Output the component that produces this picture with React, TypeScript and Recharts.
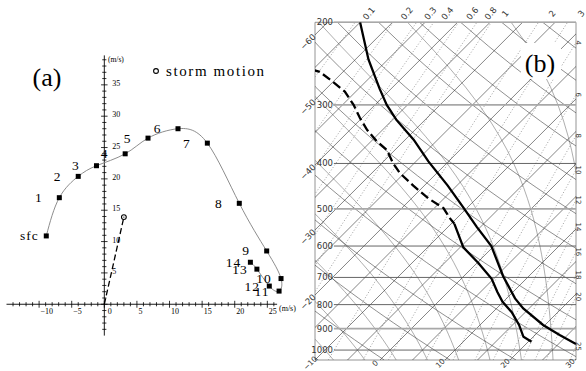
import React from 'react';
import {
  ComposedChart,
  Line,
  XAxis,
  YAxis,
  ReferenceLine,
  ReferenceArea,
  ReferenceDot,
} from 'recharts';

// ---------- (a) hodograph, m/s ----------
const hodoNames = ['sfc', '1', '2', '3', '4', '5', '6', '7', '8', '9', '10', '11', '12', '13', '14'];
const hodoU = [-8.9, -6.9, -4.0, -1.2, 3.2, 6.7, 11.3, 15.8, 20.7, 24.9, 27.1, 26.8, 25.3, 23.4, 22.4];
const hodoV = [10.9, 17.0, 20.4, 22.1, 24.0, 26.5, 28.0, 25.7, 16.1, 8.5, 4.1, 2.1, 2.9, 5.6, 6.7];
const stormU = [0, 3.0];
const stormV = [0, 13.9];
const uLabels = [-10, -5, 0, 5, 10, 15, 20, 25];
const vLabels = [5, 10, 15, 20, 25, 30, 35];

// ---------- (b) sounding, hPa / degC ----------
const tempP = [200, 240, 277, 300, 323, 356, 396, 446, 495, 546, 600, 695, 776, 815, 884, 929, 971];
const tempT = [-55.0, -48.0, -41.8, -38.2, -34.4, -28.7, -23.1, -16.4, -10.8, -5.6, -0.4, 6.0, 11.3, 14.1, 19.7, 23.8, 27.7];
const dewUpperP = [252, 255, 268, 281, 300, 320, 339, 359, 374, 400, 420, 446, 475, 498, 524, 538];
const dewUpperT = [-55.3, -53.6, -50.0, -46.7, -43.3, -40.3, -37.4, -34.1, -31.3, -28.2, -25.6, -21.7, -17.4, -13.6, -11.0, -9.5];
const dewLowerP = [538, 604, 652, 705, 752, 789, 830, 884, 937, 960];
const dewLowerT = [-9.5, -4.5, 0.2, 4.7, 7.6, 9.9, 12.9, 16.0, 18.5, 20.5];

const pressureLabels = [200, 300, 400, 500, 600, 700, 800, 900, 1000];
const lightIsobars = [200, 300, 500, 900];
const mixTop = [0.1, 0.2, 0.3, 0.4, 0.6, 0.8, 1, 2, 3];
const mixRight = [4, 6, 8, 10, 12, 14, 16, 18, 20, 25];
const edgeTemps = [-60, -50, -40, -30, -20];
const baseTemps = [-10, 0, 10, 20, 30];
const isotherms = [-60, -55, -50, -45, -40, -35, -30, -25, -20, -15, -10, -5, 0, 5, 10, 15, 20, 25, 30];
const dryThetas = [250, 260, 270, 280, 290, 300, 310, 320, 330, 340, 350, 360, 370, 380, 390, 400, 410];
const moistThetaW = [-10, -5, 0, 5, 10, 15, 20, 25, 30];

// skew-T geometry
const P_BOT = 1050;
const P_TOP = 200;
const X_MIN = -10;
const X_MAX = 30.15;
const SKEW = 31.32;
const skewX = (t: number, p: number) => t + SKEW * Math.log(P_BOT / p);

const levels: number[] = [];
for (let p = 1050; p >= 200; p -= 25) levels.push(p);

const satVap = (tc: number) => 6.112 * Math.exp((17.67 * tc) / (tc + 243.5));
const dewFromMix = (w: number, p: number) => {
  const e = (w * p) / (622 + w);
  const l = Math.log(e / 6.112);
  return (243.5 * l) / (17.67 - l);
};

function moistLine(tw: number) {
  const lapse = (T: number, p: number) => {
    const e = satVap(T - 273.15);
    const rs = (0.622 * e) / (p - e);
    return (287.04 * T + 2.501e6 * rs) / (p * (1005.7 + (2.501e6 * 2.501e6 * rs * 0.622) / (287.04 * T * T)));
  };
  const step = (T: number, p: number, dp: number) => {
    const k1 = lapse(T, p);
    const k2 = lapse(T + (k1 * dp) / 2, p + dp / 2);
    return T + k2 * dp;
  };
  const pts: { x: number; p: number }[] = [];
  let T = tw + 273.15;
  const lower: { x: number; p: number }[] = [];
  for (let p = 1000; p < 1050; p += 5) {
    T = step(T, p, 5);
    if ((p + 5) % 25 === 0) lower.unshift({ x: skewX(T - 273.15, p + 5), p: p + 5 });
  }
  pts.push(...lower);
  T = tw + 273.15;
  pts.push({ x: skewX(tw, 1000), p: 1000 });
  for (let p = 1000; p > 200; p -= 5) {
    T = step(T, p, -5);
    if ((p - 5) % 25 === 0) pts.push({ x: skewX(T - 273.15, p - 5), p: p - 5 });
  }
  return pts;
}

function mixEdgeP(w: number) {
  let lo = P_TOP;
  let hi = P_BOT;
  for (let i = 0; i < 40; i++) {
    const mid = Math.sqrt(lo * hi);
    if (skewX(dewFromMix(w, mid), mid) > X_MAX) lo = mid;
    else hi = mid;
  }
  return Math.sqrt(lo * hi);
}

const serif = "'Liberation Serif', 'DejaVu Serif', serif";
const sans = "'DejaVu Sans', 'Liberation Sans', sans-serif";

function Hodograph() {
  const hodo = hodoNames.map((name, i) => ({ name, u: hodoU[i], v: hodoV[i] }));
  const storm = stormU.map((u, i) => ({ u, v: stormV[i] }));
  const uTicks: number[] = [];
  for (let t = -14; t <= 26; t++) uTicks.push(t);
  const vTicks: number[] = [];
  for (let t = -4; t <= 39; t++) vTicks.push(t);

  const squareDot = (props: any) => {
    const { cx, cy, index, payload } = props;
    const name: string = payload.name;
    const dx = name.length > 1 ? -17 : -21;
    return (
      <g key={`hd-${index}`}>
        <rect x={cx - 2.5} y={cy - 2.5} width={5} height={5} fill="#000" stroke="none" />
        <text
          x={cx + dx}
          y={cy + 4.5}
          textAnchor="middle"
          fill="#000"
          stroke="none"
          style={{ fontFamily: serif, fontSize: 13.5, letterSpacing: name.length > 1 ? 1 : 0 }}
        >
          {name}
        </text>
      </g>
    );
  };

  const stormDot = (props: any) => {
    const { cx, cy, index } = props;
    if (index === 0) return <g key="sd0" />;
    return (
      <g key={`sd-${index}`}>
        <circle cx={cx} cy={cy} r={2.4} fill="#fff" stroke="#000" strokeWidth={1.1} />
        <circle cx={cx} cy={cy} r={0.6} fill="#000" />
      </g>
    );
  };

  return (
    <ComposedChart width={300} height={371} margin={{ top: 53.5, right: 13.1, bottom: 35.4, left: 6.5 }}>
      <XAxis type="number" dataKey="u" domain={[-15, 28]} allowDataOverflow hide />
      <YAxis type="number" dataKey="v" domain={[-5, 40]} allowDataOverflow hide />
      <ReferenceLine segment={[{ x: -15, y: 0 }, { x: 26.5, y: 0 }]} stroke="#000" strokeWidth={0.9} />
      <ReferenceLine segment={[{ x: 0, y: -5 }, { x: 0, y: 39.7 }]} stroke="#000" strokeWidth={0.9} />
      {uTicks.map((t) => {
        const h = t % 5 === 0 ? 0.55 : 0.33;
        return (
          <ReferenceLine key={`ut${t}`} segment={[{ x: t, y: -h }, { x: t, y: h }]} stroke="#000" strokeWidth={0.8} />
        );
      })}
      {vTicks.map((t) => {
        const h = t % 5 === 0 ? 0.5 : 0.32;
        return (
          <ReferenceLine key={`vt${t}`} segment={[{ x: -h, y: t }, { x: h, y: t }]} stroke="#000" strokeWidth={0.8} />
        );
      })}
      {uLabels.map((t) => (
        <ReferenceDot
          key={`ul${t}`}
          x={t}
          y={0}
          r={0}
          shape={(p: any) => (
            <text x={p.cx + (t === 0 ? 3.5 : 1.5)} y={p.cy + 10} fill="#000" style={{ fontFamily: serif, fontSize: 8 }}>
              {t < 0 ? `\u2212${-t}` : t}
            </text>
          )}
        />
      ))}
      {vLabels.map((t) => (
        <ReferenceDot
          key={`vl${t}`}
          x={0}
          y={t}
          r={0}
          shape={(p: any) => (
            <text x={p.cx + 8} y={p.cy + 1} fill="#000" style={{ fontFamily: serif, fontSize: 8 }}>
              {t}
            </text>
          )}
        />
      ))}
      <Line
        data={storm}
        dataKey="v"
        stroke="#000"
        strokeWidth={1.3}
        strokeDasharray="6 3"
        dot={stormDot}
        isAnimationActive={false}
      />
      <Line
        data={hodo}
        dataKey="v"
        type="natural"
        stroke="#808080"
        strokeWidth={0.9}
        dot={squareDot}
        isAnimationActive={false}
      />
    </ComposedChart>
  );
}

function SkewT() {
  const lineProps = { dot: false as const, isAnimationActive: false, type: 'linear' as const };
  const isoLines = isotherms.map((t) => [
    { x: skewX(t, P_BOT), p: P_BOT },
    { x: skewX(t, P_TOP), p: P_TOP },
  ]);
  const dryLines = dryThetas.map((th) =>
    levels.map((p) => ({ x: skewX(th * Math.pow(p / 1000, 0.2857) - 273.15, p), p }))
  );
  const moistLines = moistThetaW.map((tw) => moistLine(tw));
  const mixLines = [...mixTop, ...mixRight].map((w) => levels.map((p) => ({ x: skewX(dewFromMix(w, p), p), p })));
  const temp = tempP.map((p, i) => ({ x: skewX(tempT[i], p), p }));
  const dewUp = dewUpperP.map((p, i) => ({ x: skewX(dewUpperT[i], p), p }));
  const dewLo = dewLowerP.map((p, i) => ({ x: skewX(dewLowerT[i], p), p }));
  const labelStyle = { fontSize: 8.5, fontFamily: sans };

  return (
    <ComposedChart width={296} height={371} margin={{ top: 22.3, right: 10, bottom: 11, left: 25 }}>
      <XAxis type="number" dataKey="x" domain={[X_MIN, X_MAX]} allowDataOverflow hide />
      <YAxis type="number" dataKey="p" scale="log" domain={[P_TOP, P_BOT]} reversed allowDataOverflow hide />

      {mixLines.map((d, i) => (
        <Line key={`mx${i}`} data={d} dataKey="p" stroke="#888" strokeWidth={0.8} strokeDasharray="1 2" {...lineProps} />
      ))}
      {moistLines.map((d, i) => (
        <Line key={`ma${i}`} data={d} dataKey="p" stroke="#777" strokeWidth={0.6} {...lineProps} />
      ))}
      {dryLines.map((d, i) => (
        <Line key={`da${i}`} data={d} dataKey="p" stroke="#444" strokeWidth={0.6} {...lineProps} />
      ))}
      {isoLines.map((d, i) => (
        <Line key={`it${i}`} data={d} dataKey="p" stroke="#333" strokeWidth={0.6} {...lineProps} />
      ))}

      {pressureLabels.map((p) => {
        const light = lightIsobars.includes(p);
        return (
          <ReferenceLine
            key={`ib${p}`}
            segment={[{ x: X_MIN + 2.9, y: p }, { x: X_MAX, y: p }]}
            stroke={light ? '#a8a8a8' : '#555'}
            strokeWidth={light ? 1.6 : 0.9}
          />
        );
      })}
      <ReferenceArea x1={X_MIN} x2={X_MAX} y1={P_TOP} y2={P_BOT} fill="none" stroke="#888" strokeWidth={0.9} />

      <Line data={dewUp} dataKey="p" stroke="#000" strokeWidth={2.3} strokeDasharray="9 4" {...lineProps} />
      <Line data={dewLo} dataKey="p" stroke="#000" strokeWidth={2.3} {...lineProps} />
      <Line data={temp} dataKey="p" stroke="#000" strokeWidth={2.3} {...lineProps} />

      {pressureLabels.map((p) => (
        <ReferenceDot
          key={`pl${p}`}
          x={X_MIN}
          y={p}
          r={0}
          shape={(s: any) => (
            <text x={s.cx + 18} y={s.cy + 3} textAnchor="end" fill="#333" style={labelStyle}>
              {p}
            </text>
          )}
        />
      ))}
      {edgeTemps.map((t) => (
        <ReferenceDot
          key={`et${t}`}
          x={X_MIN}
          y={P_BOT * Math.exp((t - X_MIN) / SKEW)}
          r={0}
          shape={(s: any) => (
            <text
              x={s.cx - 5}
              y={s.cy + 9}
              textAnchor="middle"
              fill="#333"
              transform={`rotate(-45 ${s.cx - 5} ${s.cy + 9})`}
              style={labelStyle}
            >
              {`\u2212${-t}`}
            </text>
          )}
        />
      ))}
      {baseTemps.map((t) => (
        <ReferenceDot
          key={`bt${t}`}
          x={t}
          y={P_BOT}
          r={0}
          shape={(s: any) => (
            <text
              x={s.cx - 3}
              y={s.cy + 5}
              textAnchor="middle"
              fill="#333"
              transform={`rotate(-45 ${s.cx - 3} ${s.cy + 5})`}
              style={{ ...labelStyle, fontSize: 7.5 }}
            >
              {t < 0 ? `\u2212${-t}` : t}
            </text>
          )}
        />
      ))}
      {mixTop.map((w) => (
        <ReferenceDot
          key={`mt${w}`}
          x={skewX(dewFromMix(w, P_TOP), P_TOP)}
          y={P_TOP}
          r={0}
          shape={(s: any) => (
            <text
              x={s.cx + 16}
              y={s.cy - 7}
              textAnchor="middle"
              fill="#333"
              transform={`rotate(-50 ${s.cx + 16} ${s.cy - 7})`}
              style={labelStyle}
            >
              {w}
            </text>
          )}
        />
      ))}
      {mixRight.map((w) => (
        <ReferenceDot
          key={`mr${w}`}
          x={X_MAX}
          y={mixEdgeP(w)}
          r={0}
          shape={(s: any) => (
            <text
              x={s.cx + 2}
              y={s.cy}
              textAnchor="middle"
              dominantBaseline="central"
              fill="#333"
              transform={`rotate(90 ${s.cx + 2} ${s.cy})`}
              style={{ ...labelStyle, fontSize: 7 }}
            >
              {w}
            </text>
          )}
        />
      ))}
    </ComposedChart>
  );
}

export default function App() {
  return (
    <div style={{ position: 'relative', width: 586, height: 371, background: '#fff', overflow: 'hidden' }}>
      <style>{'body{margin:0;}'}</style>
      <div style={{ position: 'absolute', left: 0, top: 0 }}>
        <Hodograph />
      </div>
      <div style={{ position: 'absolute', left: 290, top: 0 }}>
        <SkewT />
      </div>
      <svg
        width={586}
        height={371}
        style={{ position: 'absolute', left: 0, top: 0, pointerEvents: 'none' }}
      >
        <text x={47} y={86} textAnchor="middle" fontSize={26} fontFamily={serif}>
          (a)
        </text>
        <circle cx={156} cy={71} r={2.4} fill="none" stroke="#000" strokeWidth={1.1} />
        <text x={166} y={75.5} fontSize={15} fontFamily={serif} letterSpacing={1.6}>
          storm motion
        </text>
        <text x={108} y={62} fontSize={7.5} fontFamily={serif}>
          (m/s)
        </text>
        <text x={279} y={311} fontSize={8} fontFamily={serif}>
          (m/s)
        </text>
        <rect x={521} y={43} width={40} height={36} fill="#fff" />
        <text x={540} y={72} textAnchor="middle" fontSize={26} fontFamily={serif}>
          (b)
        </text>
      </svg>
    </div>
  );
}
